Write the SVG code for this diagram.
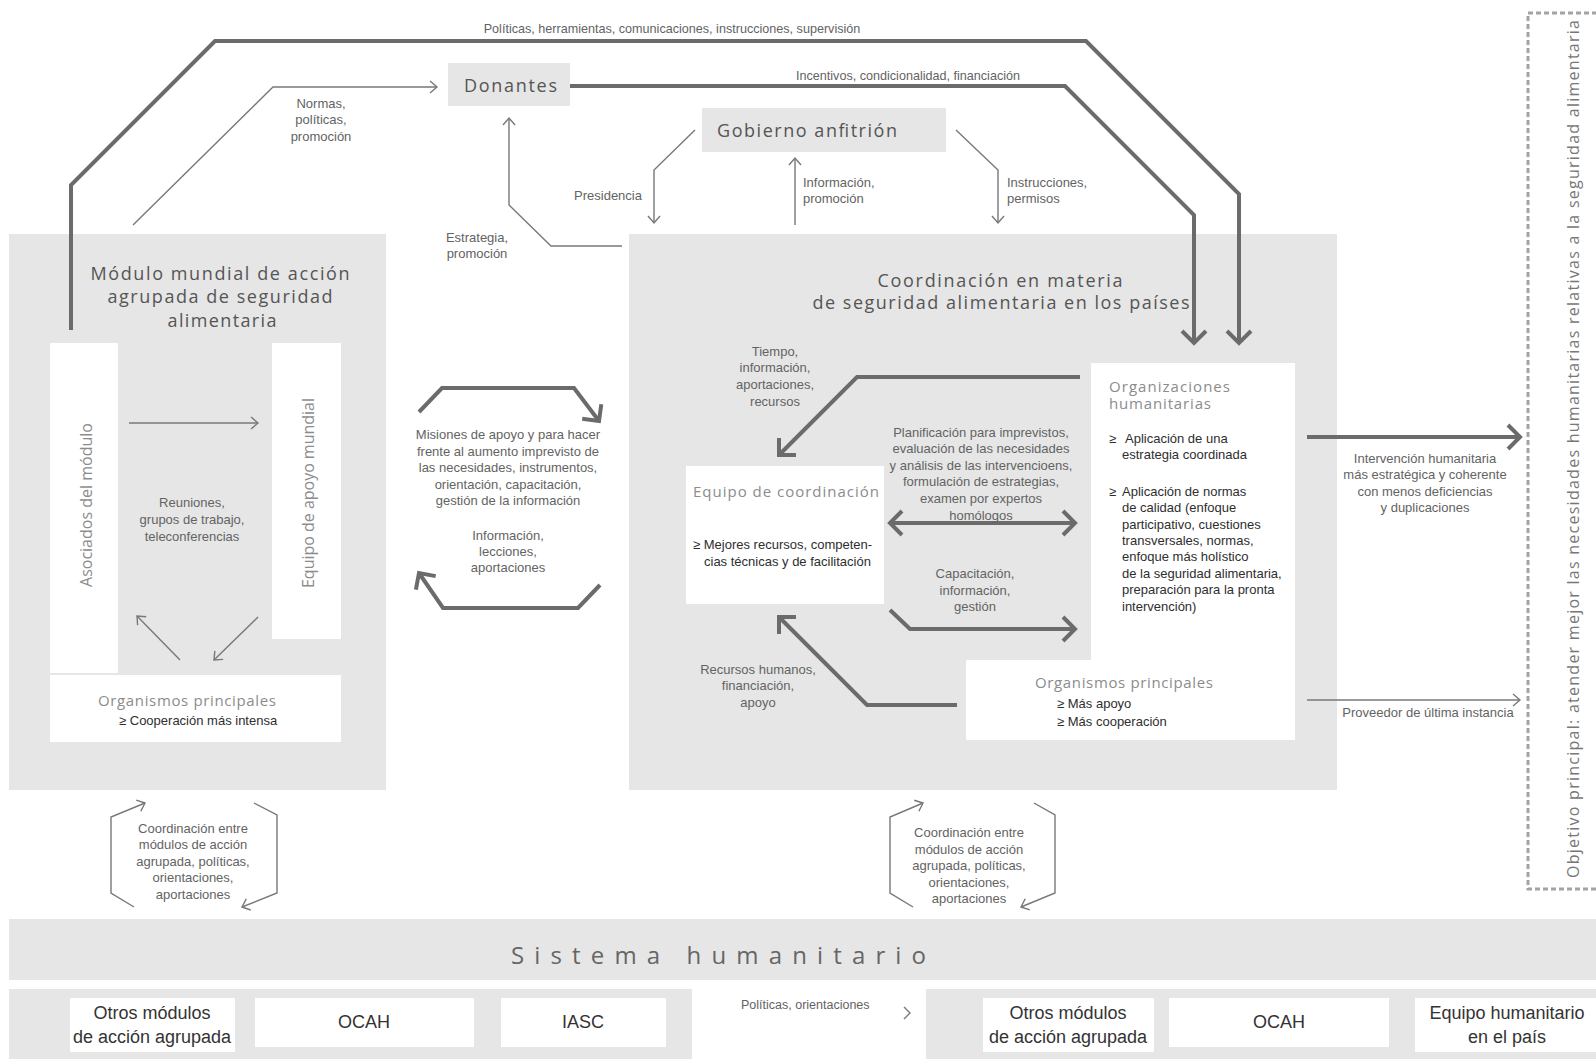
<svg xmlns="http://www.w3.org/2000/svg" width="1596" height="1059" viewBox="0 0 1596 1059">
<defs>
<style>
.panel{fill:#e6e6e6}
.box{fill:#ffffff}
.thick{fill:none;stroke:#6b6b6b;stroke-width:4;stroke-linejoin:miter}
.thin{fill:none;stroke:#787878;stroke-width:1.4}
.lbl{font-family:"Liberation Sans",Arial,sans-serif;font-size:13px;fill:#636363}
.blt{font-family:"Liberation Sans",Arial,sans-serif;font-size:13px;fill:#2e2e2e}
.hd{font-family:"Open Sans","Noto Sans",sans-serif;font-size:18px;fill:#555}
.bh{font-family:"Open Sans","Noto Sans",sans-serif;font-size:15px;fill:#8c8c8c}
.bot{font-family:"Liberation Sans",Arial,sans-serif;font-size:18px;fill:#333}
.c{text-anchor:middle}
</style>
<marker id="ah" markerUnits="userSpaceOnUse" markerWidth="30" markerHeight="30" viewBox="-15 -15 30 30" refX="0" refY="0" orient="auto-start-reverse">
<path d="M-12,-12 L0,0 L-12,12" fill="none" stroke="#6b6b6b" stroke-width="4"/>
</marker>
<marker id="at" markerUnits="userSpaceOnUse" markerWidth="20" markerHeight="20" viewBox="-10 -10 20 20" refX="0" refY="0" orient="auto">
<path d="M-7,-6 L0,0 L-7,6" fill="none" stroke="#787878" stroke-width="1.4"/>
</marker>
</defs>
<rect width="1596" height="1059" fill="#ffffff"/>

<g id="modulo-mundial">
<rect class="panel" x="9" y="234" width="377" height="556"/>
<text class="hd c" x="220" y="280" textLength="259" lengthAdjust="spacing">Módulo mundial de acción</text>
<text class="hd c" x="220" y="303" textLength="225" lengthAdjust="spacing">agrupada de seguridad</text>
<text class="hd c" x="222" y="327" textLength="109" lengthAdjust="spacing">alimentaria</text>
</g>
<g id="asociados">
<rect class="box" x="50" y="343" width="68" height="330"/>
<text class="bh c" style="font-size:16px" transform="translate(92,505) rotate(-90)" textLength="164" lengthAdjust="spacing">Asociados del módulo</text>
</g>
<g id="equipo-apoyo">
<rect class="box" x="272" y="343" width="69" height="296"/>
<text class="bh c" style="font-size:16px" transform="translate(314,493) rotate(-90)" textLength="190" lengthAdjust="spacing">Equipo de apoyo mundial</text>
</g>
<g id="organismos-izq">
<rect class="box" x="50" y="675" width="291" height="67"/>
<text class="bh c" x="187" y="706" textLength="178" lengthAdjust="spacing">Organismos principales</text>
<text class="blt" x="119" y="725">≥ Cooperación más intensa</text>
</g>

<g id="coordinacion-paises">
<rect class="panel" x="629" y="234" width="708" height="556"/>
<text class="hd c" x="1000" y="287" textLength="245" lengthAdjust="spacing">Coordinación en materia</text>
<text class="hd c" x="1001" y="309" textLength="377" lengthAdjust="spacing">de seguridad alimentaria en los países</text>
</g>
<g id="equipo-coordinacion">
<rect class="box" x="686" y="466" width="198" height="138"/>
<text class="bh" x="693" y="497" textLength="186" lengthAdjust="spacing">Equipo de coordinación</text>
<text class="blt" x="693" y="549">≥ Mejores recursos, competen-</text>
<text class="blt" x="704" y="566">cias técnicas y de facilitación</text>
</g>
<g id="organizaciones-humanitarias">
<rect class="box" x="1091" y="363" width="204" height="297"/>
<text class="bh" x="1109" y="392" textLength="121" lengthAdjust="spacing">Organizaciones</text>
<text class="bh" x="1109" y="409" textLength="102" lengthAdjust="spacing">humanitarias</text>
<text class="blt" x="1109" y="443">≥</text>
<text class="blt" x="1125" y="443">Aplicación de una</text>
<text class="blt" x="1122" y="459">estrategia coordinada</text>
<text class="blt" x="1109" y="496">≥</text>
<text class="blt" x="1122" y="496">Aplicación de normas</text>
<text class="blt" x="1122" y="512">de calidad (enfoque</text>
<text class="blt" x="1122" y="529">participativo, cuestiones</text>
<text class="blt" x="1122" y="545">transversales, normas,</text>
<text class="blt" x="1122" y="561">enfoque más holístico</text>
<text class="blt" x="1122" y="578">de la seguridad alimentaria,</text>
<text class="blt" x="1122" y="594">preparación para la pronta</text>
<text class="blt" x="1122" y="611">intervención)</text>
</g>
<g id="organismos-der">
<rect class="box" x="966" y="660" width="329" height="80"/>
<text class="bh" x="1035" y="688" textLength="178" lengthAdjust="spacing">Organismos principales</text>
<text class="blt" x="1057" y="708">≥  Más apoyo</text>
<text class="blt" x="1057" y="726">≥  Más cooperación</text>
</g>

<g id="donantes">
<rect class="panel" x="448" y="63" width="122" height="43"/>
<text class="hd" x="464" y="92" textLength="93" lengthAdjust="spacing">Donantes</text>
</g>
<g id="gobierno">
<rect class="panel" x="702" y="108" width="244" height="44"/>
<text class="hd" x="717" y="137" textLength="180" lengthAdjust="spacing">Gobierno anfitrión</text>
</g>

<g id="objetivo">
<rect x="1528" y="13" width="80" height="876" fill="none" stroke="#a3a3a3" stroke-width="3" stroke-dasharray="5 3"/>
<text class="bh" style="font-size:16px;fill:#777" transform="translate(1579,449) rotate(-90)" text-anchor="middle" textLength="858" lengthAdjust="spacing">Objetivo principal: atender mejor las necesidades humanitarias relativas a la seguridad alimentaria</text>
</g>

<g id="sistema-humanitario">
<rect class="panel" x="9" y="919" width="1587" height="61"/>
<text class="hd" style="font-size:24px;fill:#666" x="511" y="964" textLength="415" lengthAdjust="spacing">Sistema humanitario</text>
</g>
<g id="sistema-mundial">
<rect class="panel" x="9" y="989" width="683" height="70"/>
</g>
<g id="otros-modulos-1">
<rect class="box" x="70" y="998" width="165" height="54"/>
<text class="bot c" x="152" y="1019">Otros módulos</text>
<text class="bot c" x="152" y="1043">de acción agrupada</text>
</g>
<g id="ocah-1">
<rect class="box" x="255" y="998" width="219" height="49"/>
<text class="bot c" x="364" y="1028">OCAH</text>
</g>
<g id="iasc">
<rect class="box" x="501" y="998" width="165" height="49"/>
<text class="bot c" x="583" y="1028">IASC</text>
</g>
<g id="sistema-pais">
<rect class="panel" x="926" y="989" width="670" height="70"/>
</g>
<g id="otros-modulos-2">
<rect class="box" x="983" y="998" width="171" height="54"/>
<text class="bot c" x="1068" y="1019">Otros módulos</text>
<text class="bot c" x="1068" y="1043">de acción agrupada</text>
</g>
<g id="ocah-2">
<rect class="box" x="1169" y="998" width="220" height="49"/>
<text class="bot c" x="1279" y="1028">OCAH</text>
</g>
<g id="equipo-humanitario">
<rect class="box" x="1415" y="998" width="181" height="54"/>
<text class="bot c" x="1507" y="1019">Equipo humanitario</text>
<text class="bot c" x="1507" y="1043">en el país</text>
</g>

<g id="connectors">
<polyline class="thick" points="71,330 71,185 215,41 1086,41 1239,194 1239,343" marker-end="url(#ah)"/>
<polyline class="thick" points="570,86 1065,86 1194,215 1194,343" marker-end="url(#ah)"/>
<polyline class="thin" points="133,225 273,87 437,87" marker-end="url(#at)"/>
<polyline class="thin" points="622,246 551,246 509,205 509,118" marker-end="url(#at)"/>
<polyline class="thin" points="695,130 654,170 654,223" marker-end="url(#at)"/>
<polyline class="thin" points="795,225 795,158" marker-end="url(#at)"/>
<polyline class="thin" points="956,130 998,170 998,223" marker-end="url(#at)"/>
<polyline class="thin" points="129,423 258,423" marker-end="url(#at)"/>
<polyline class="thin" points="180,660 137,616" marker-end="url(#at)"/>
<polyline class="thin" points="258,617 214,660" marker-end="url(#at)"/>
<polyline class="thick" points="419,412 442,388 574,388 599,421" marker-end="url(#ah)"/>
<polyline class="thick" points="600,585 578,608 443,608 419,573" marker-end="url(#ah)"/>
<polyline class="thick" points="1080,377 857,377 779,455" marker-end="url(#ah)"/>
<polyline class="thick" points="890,523 1075,523" marker-start="url(#ah)" marker-end="url(#ah)"/>
<polyline class="thick" points="890,610 910,629 1075,629" marker-end="url(#ah)"/>
<polyline class="thick" points="957,705 867,705 779,617" marker-end="url(#ah)"/>
<polyline class="thick" points="1307,437 1520,437" marker-end="url(#ah)"/>
<polyline class="thin" points="1307,700 1520,700" marker-end="url(#at)"/>
<polyline class="thin" points="134,907 111,893 111,817 145,803" marker-end="url(#at)"/>
<polyline class="thin" points="254,803 277,815 277,893 242,907" marker-end="url(#at)"/>
<polyline class="thin" points="913,907 890,893 890,817 923,803" marker-end="url(#at)"/>
<polyline class="thin" points="1034,803 1055,815 1055,893 1021,907" marker-end="url(#at)"/>
<polyline class="thin" points="904,1007 910,1013 904,1019"/>
</g>

<g id="labels">
<text class="lbl c" x="672" y="33" style="font-size:12.6px">Políticas, herramientas, comunicaciones, instrucciones, supervisión</text>
<text class="lbl c" x="908" y="80" style="font-size:12.6px">Incentivos, condicionalidad, financiación</text>
<text class="lbl c" x="321" y="108">Normas,</text>
<text class="lbl c" x="321" y="124">políticas,</text>
<text class="lbl c" x="321" y="141">promoción</text>
<text class="lbl c" x="477" y="242">Estrategia,</text>
<text class="lbl c" x="477" y="258">promoción</text>
<text class="lbl c" x="608" y="200">Presidencia</text>
<text class="lbl" x="803" y="187">Información,</text>
<text class="lbl" x="803" y="203">promoción</text>
<text class="lbl" x="1007" y="187">Instrucciones,</text>
<text class="lbl" x="1007" y="203">permisos</text>
<text class="lbl c" x="192" y="507">Reuniones,</text>
<text class="lbl c" x="192" y="524">grupos de trabajo,</text>
<text class="lbl c" x="192" y="541">teleconferencias</text>
<text class="lbl c" x="508" y="439">Misiones de apoyo y para hacer</text>
<text class="lbl c" x="508" y="456">frente al aumento imprevisto de</text>
<text class="lbl c" x="508" y="472">las necesidades, instrumentos,</text>
<text class="lbl c" x="508" y="489">orientación, capacitación,</text>
<text class="lbl c" x="508" y="505">gestión de la información</text>
<text class="lbl c" x="508" y="540">Información,</text>
<text class="lbl c" x="508" y="556">lecciones,</text>
<text class="lbl c" x="508" y="572">aportaciones</text>
<text class="lbl c" x="775" y="356">Tiempo,</text>
<text class="lbl c" x="775" y="372">información,</text>
<text class="lbl c" x="775" y="389">aportaciones,</text>
<text class="lbl c" x="775" y="406">recursos</text>
<text class="lbl c" x="981" y="437">Planificación para imprevistos,</text>
<text class="lbl c" x="981" y="453">evaluación de las necesidades</text>
<text class="lbl c" x="981" y="470">y análisis de las intervencioens,</text>
<text class="lbl c" x="981" y="486">formulación de estrategias,</text>
<text class="lbl c" x="981" y="503">examen por expertos</text>
<text class="lbl c" x="981" y="520">homólogos</text>
<text class="lbl c" x="975" y="578">Capacitación,</text>
<text class="lbl c" x="975" y="595">información,</text>
<text class="lbl c" x="975" y="611">gestión</text>
<text class="lbl c" x="758" y="674">Recursos humanos,</text>
<text class="lbl c" x="758" y="690">financiación,</text>
<text class="lbl c" x="758" y="707">apoyo</text>
<text class="lbl c" x="1425" y="463">Intervención humanitaria</text>
<text class="lbl c" x="1425" y="479">más estratégica y coherente</text>
<text class="lbl c" x="1425" y="496">con menos deficiencias</text>
<text class="lbl c" x="1425" y="512">y duplicaciones</text>
<text class="lbl c" x="1428" y="717">Proveedor de última instancia</text>
<text class="lbl c" x="193" y="833">Coordinación entre</text>
<text class="lbl c" x="193" y="849">módulos de acción</text>
<text class="lbl c" x="193" y="866">agrupada, políticas,</text>
<text class="lbl c" x="193" y="882">orientaciones,</text>
<text class="lbl c" x="193" y="899">aportaciones</text>
<text class="lbl c" x="969" y="837">Coordinación entre</text>
<text class="lbl c" x="969" y="854">módulos de acción</text>
<text class="lbl c" x="969" y="870">agrupada, políticas,</text>
<text class="lbl c" x="969" y="887">orientaciones,</text>
<text class="lbl c" x="969" y="903">aportaciones</text>
<text class="lbl" x="741" y="1009" style="font-size:12.5px">Políticas, orientaciones</text>
</g>
</svg>
